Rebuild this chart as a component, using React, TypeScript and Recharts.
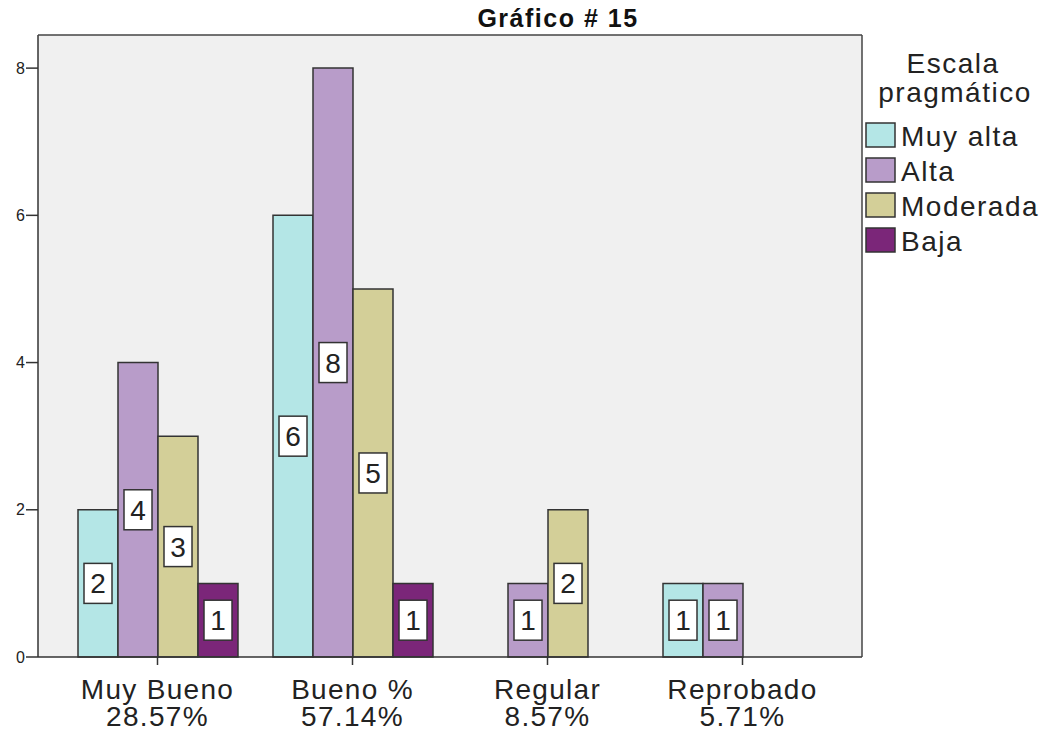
import { Bar, BarChart, CartesianGrid, XAxis, YAxis } from "recharts";

const categories = ["Muy Bueno", "Bueno %", "Regular", "Reprobado"];
const percents = ["28.57%", "57.14%", "8.57%", "5.71%"];
const muyAlta = [2, 6, null, 1];
const alta = [4, 8, 1, 1];
const moderada = [3, 5, 2, null];
const baja = [1, 1, null, null];
const yTicks = [0, 2, 4, 6, 8];

const series = [
	{ key: "muyAlta", name: "Muy alta", color: "#b4e6e6", values: muyAlta },
	{ key: "alta", name: "Alta", color: "#b89cc9", values: alta },
	{ key: "moderada", name: "Moderada", color: "#d3cf98", values: moderada },
	{ key: "baja", name: "Baja", color: "#7b2679", values: baja },
];

const data = categories.map((cat, i) => {
	const row: Record<string, any> = { cat, pct: percents[i] };
	series.forEach((s) => (row[s.key] = s.values[i]));
	return row;
});

const FONT = "'Liberation Sans', Arial, sans-serif";

function BoxLabel(props: any) {
	const { x, y, width, height, value } = props;
	if (value == null || !height) return null;
	const cx = x + width / 2;
	const cy = y + height / 2;
	return (
		<g>
			<rect x={cx - 14} y={cy - 20} width={28} height={40} fill="#fff" stroke="#333" strokeWidth={1.5} />
			<text x={cx} y={cy + 10} textAnchor="middle" fontSize={28} fontFamily={FONT} fill="#222">
				{value}
			</text>
		</g>
	);
}

function CatTick(props: any) {
	const { x, y, payload, index } = props;
	return (
		<g>
			<text x={x} y={y + 34} textAnchor="middle" fontSize={28} letterSpacing={1.3} fontFamily={FONT} fill="#222">
				{payload.value}
			</text>
			<text x={x} y={y + 61} textAnchor="middle" fontSize={28} letterSpacing={1.3} fontFamily={FONT} fill="#222">
				{percents[index]}
			</text>
		</g>
	);
}

export default function App() {
	return (
		<div style={{ position: "absolute", left: 0, top: 0, width: 1047, height: 734, background: "#fff" }}>
			<BarChart
				width={1047}
				height={734}
				data={data}
				margin={{ top: 35, right: 185, bottom: 0, left: 0 }}
				barGap={0}
				barCategoryGap={18}
			>
				<CartesianGrid fill="#f0f0f0" horizontal={false} vertical={false} />
				<XAxis
					dataKey="cat"
					height={77}
					padding={{ left: 22, right: 22 }}
					tickSize={8}
					tickMargin={0}
					axisLine={{ stroke: "#333", strokeWidth: 1.5 }}
					tickLine={{ stroke: "#333", strokeWidth: 1.5 }}
					tick={<CatTick />}
					interval={0}
				/>
				<YAxis
					width={38}
					domain={[0, 8.45]}
					ticks={yTicks}
					tickSize={12}
					tickMargin={1}
					axisLine={{ stroke: "#333", strokeWidth: 1.5 }}
					tickLine={{ stroke: "#333", strokeWidth: 1.5 }}
					tick={{ fontSize: 16, fontFamily: FONT, fill: "#222" }}
				/>
				{series.map((s) => (
					<Bar
						key={s.key}
						dataKey={s.key}
						name={s.name}
						fill={s.color}
						stroke="#333"
						strokeWidth={1.5}
						isAnimationActive={false}
						label={BoxLabel}
					/>
				))}
			</BarChart>
			<svg
				width={1047}
				height={734}
				style={{ position: "absolute", left: 0, top: 0, pointerEvents: "none" }}
			>
				<line x1={38} y1={35} x2={862} y2={35} stroke="#444" strokeWidth={1.5} />
				<line x1={862} y1={35} x2={862} y2={657} stroke="#444" strokeWidth={1.5} />
				<text x={558} y={27} textAnchor="middle" fontSize={25} fontWeight="bold" letterSpacing={1.5} fontFamily={FONT} fill="#111">
					Gráfico # 15
				</text>
				<text x={953} y={73} textAnchor="middle" fontSize={28} letterSpacing={1.5} fontFamily={FONT} fill="#222">
					Escala
				</text>
				<text x={955} y={102} textAnchor="middle" fontSize={28} letterSpacing={1.5} fontFamily={FONT} fill="#222">
					pragmático
				</text>
				{series.map((s, i) => (
					<g key={s.key}>
						<rect x={866} y={123 + i * 35} width={29} height={24} fill={s.color} stroke="#333" strokeWidth={1.5} />
						<text x={901} y={146 + i * 35} fontSize={28} letterSpacing={1.5} fontFamily={FONT} fill="#222">
							{s.name}
						</text>
					</g>
				))}
			</svg>
		</div>
	);
}
